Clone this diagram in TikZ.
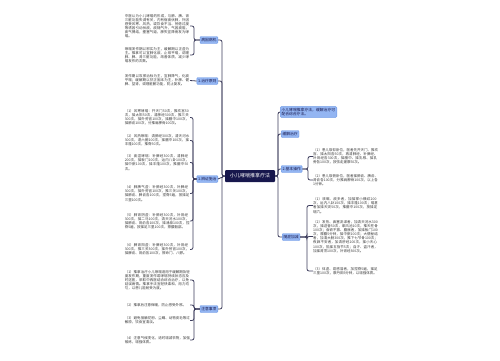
\documentclass[tikz,border=0pt]{standalone}
\usepackage{fontspec}
\setmainfont{Noto Sans CJK SC}
\XeTeXlinebreaklocale "zh"
\XeTeXlinebreakskip = 0pt plus 1pt

\definecolor{rootfill}{HTML}{17174D}
\definecolor{topicfill}{HTML}{93B5F2}
\definecolor{topicline}{HTML}{6C98E6}
\definecolor{linkcol}{HTML}{3C3C5C}
\definecolor{notecol}{HTML}{3A3A3A}

\tikzset{
  rootbox/.style={fill=rootfill, text=white, rounded corners=1pt, inner sep=2pt,
    minimum width=50pt, minimum height=12pt, font=\fontsize{5}{6}\selectfont},
  topic/.style={draw=topicline, fill=topicfill, text=rootfill, rounded corners=1pt,
    inner sep=1.3pt, minimum height=7pt, line width=0.4pt, font=\fontsize{3.8}{4.6}\selectfont},
  note/.style={text width=65pt, align=left, inner sep=0pt, text=notecol,
    font=\fontsize{3.5}{4.1}\selectfont},
  link/.style={draw=linkcol, line width=0.8pt, rounded corners=2pt}
}

\begin{document}
\begin{tikzpicture}[x=1pt,y=-1pt]
\useasboundingbox (0,0) rectangle (500,360);

\node[rootbox] (root) at (250,176) {小儿哮喘推拿疗法};

% left side
\coordinate (lt) at (222,0);
\node[topic, anchor=east] (yin) at (218,40) {病因病机};
\node[topic, anchor=east] (yuan) at (218,81) {1.治疗原则};
\node[topic, anchor=east] (bian) at (218,179) {1.辨证施治};
\node[topic, anchor=east] (zhu) at (218,309) {注意事项};

\draw[link] (root.west) -- (root.west -| lt) |- (yin.east);
\draw[link] (root.west) -- (root.west -| lt) |- (yuan.east);
\draw[link] (root.west) -- (bian.east);
\draw[link] (root.west) -- (root.west -| lt) |- (zhu.east);

\node[note, anchor=east] (yin1) at (190,26) {中医认为小儿哮喘的形成，与肺、脾、肾三脏功能失调有关，内有宿痰伏肺，外因感受风寒、风热，或饮食不当、劳倦过度等诱因引动伏痰，痰随气升，气因痰阻，痰气搏结，壅塞气道，肺失宣降而发为哮喘。};
\node[note, anchor=east] (yin2) at (190,55) {哮喘发作期以邪实为主，缓解期以正虚为主。推拿可以宣肺化痰、止咳平喘，调理肺、脾、肾三脏功能，改善体质，减少哮喘发作的次数。};
\coordinate (lb1) at (194,0);
\draw[link] (yin.west) -- (yin.west -| lb1) |- (yin1.east);
\draw[link] (yin.west) -- (yin.west -| lb1) |- (yin2.east);

\node[note, anchor=east] (yuan1) at (190,80.5) {发作期以攻邪治标为主，宣肺降气，化痰平喘；缓解期以扶正固本为主，补肺、健脾、益肾，调理脏腑功能，防止复发。};
\draw[link] (yuan.west) -- (yuan1.east);

\node[note, anchor=east] (bian1) at (190,117.5) {（1）风寒哮喘：开天门50次，推坎宫50次，揉太阳50次，清肺经300次，推三关300次，揉外劳宫100次，揉膻中100次，揉肺俞100次，分推肩胛骨100次。};
\node[note, anchor=east] (bian2) at (190,140.5) {（2）风热哮喘：清肺经300次，清天河水300次，退六腑100次，揉膻中100次，揉丰隆100次，推脊50次。};
\node[note, anchor=east] (bian3) at (190,162.5) {（3）痰湿哮喘：补脾经300次，清肺经200次，揉板门100次，运内八卦100次，揉中脘100次，揉丰隆100次，推膻中50次。};
\node[note, anchor=east] (bian4) at (190,193.5) {（4）肺脾气虚：补肺经300次，补脾经300次，揉外劳宫100次，推三关100次，揉肺俞、脾俞各100次，捏脊5遍，按揉足三里100次。};
\node[note, anchor=east] (bian5) at (190,221) {（5）肺肾阴虚：补肺经300次，补肾经300次，揉二马100次，清天河水100次，揉肺俞、肾俞各100次，揉涌泉100次，捏脊5遍，按揉足三里100次，擦腰骶部。};
\node[note, anchor=east] (bian6) at (190,249.5) {（6）脾肾阳虚：补脾经300次，补肾经300次，推三关300次，揉外劳宫100次，揉脾俞、肾俞各100次，擦命门、八髎。};
\coordinate (lb2) at (193,0);
\foreach \n in {bian1,bian2,bian3,bian4,bian5,bian6}
  \draw[link] (bian.west) -- (bian.west -| lb2) |- (\n.east);

\node[note, anchor=east] (zhu1) at (190,280) {（1）推拿治疗小儿哮喘适用于缓解期及轻度发作期，重度发作或哮喘持续状态应及时送医，采取中西医结合综合治疗，以免延误病情。推拿手法宜轻快柔和，用力均匀，以患儿能耐受为度。};
\node[note, anchor=east] (zhu2) at (190,305) {（2）推拿后注意保暖，防止感受外邪。};
\node[note, anchor=east] (zhu3) at (190,320.5) {（3）避免接触花粉、尘螨、动物皮毛等过敏原，饮食宜清淡。};
\node[note, anchor=east] (zhu4) at (190,340) {（4）注意气候变化，适时增减衣物，加强锻炼，增强体质。};
\coordinate (lb3) at (194,0);
\foreach \n in {zhu1,zhu2,zhu3,zhu4}
  \draw[link] (zhu.west) -- (zhu.west -| lb3) |- (\n.east);

% right side
\coordinate (rt) at (278,0);
\node[topic, anchor=west, text width=54pt, align=left] (fa) at (280,112) {小儿哮喘推拿疗法，缓解治疗可配合综合疗法。};
\node[topic, anchor=west] (huan) at (281,134) {缓解治疗};
\node[topic, anchor=west] (cao) at (281,169) {2.基本操作};
\node[topic, anchor=west] (sui) at (282,237) {随症加减};

\draw[link] (root.east) -- (root.east -| rt) |- (fa.west);
\draw[link] (root.east) -- (root.east -| rt) |- (huan.west);
\draw[link] (root.east) -- (root.east -| rt) |- (cao.west);
\draw[link] (root.east) -- (root.east -| rt) |- (sui.west);

\node[note, anchor=west] (cao1) at (313,156.5) {（1）患儿取仰卧位，医者先开天门、推坎宫、揉太阳各50次，再清肺经、补脾经、补肾经各300次，揉膻中、揉乳根、揉乳旁各100次，按弦走搓摩50次。};
\node[note, anchor=west] (cao2) at (313,180) {（2）患儿取俯卧位，医者揉肺俞、脾俞、肾俞各100次，分推肩胛骨100次，以上各1分钟。};
\coordinate (rb1) at (308,0);
\draw[link] (cao.east) -- (cao.east -| rb1) |- (cao1.west);
\draw[link] (cao.east) -- (cao.east -| rb1) |- (cao2.west);

\node[note, anchor=west] (sui1) at (313,205.5) {（1）咳嗽、痰多者，加揉掌小横纹200次，运内八卦100次，揉丰隆100次；喘甚者加揉天突50次，推膻中100次，按揉定喘穴。};
\node[note, anchor=west] (sui2) at (313,236.5) {（2）发热、鼻塞流涕者，加清天河水300次，揉迎香50次，拿风池10次，推天柱骨100次；食欲不振、腹胀者，加揉板门100次，摩腹5分钟，揉中脘100次；大便秘结者，加清大肠300次，推下七节骨100次；夜寐不安者，加清肝经200次，揉小天心100次，掐揉五指节5次；自汗、盗汗者，加揉肾顶100次，补肾经300次。};
\node[note, anchor=west] (sui3) at (313,271) {（3）体虚、易感冒者，加捏脊5遍，揉足三里100次，摩丹田5分钟，以增强体质。};
\coordinate (rb2) at (307,0);
\foreach \n in {sui1,sui2,sui3}
  \draw[link] (sui.east) -- (sui.east -| rb2) |- (\n.west);

\end{tikzpicture}
\end{document}
